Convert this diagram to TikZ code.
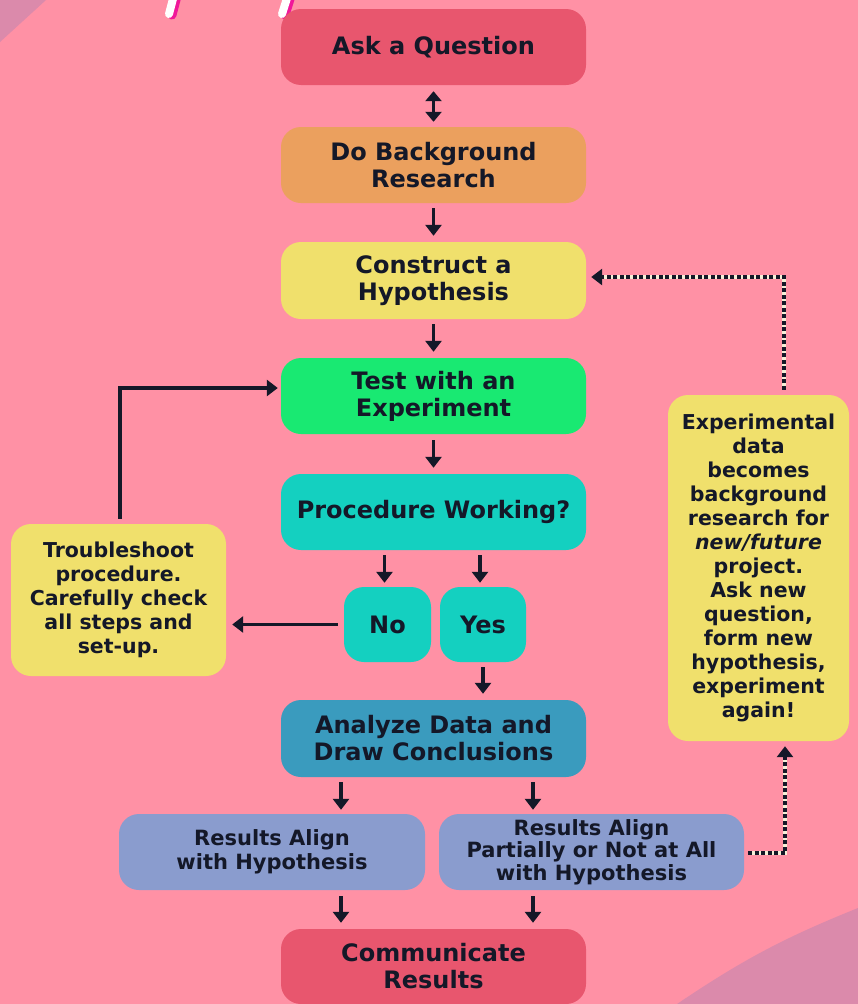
\documentclass[tikz,border=0pt]{standalone}
\usepackage{fontspec}
\setmainfont{DejaVu Sans}
\usetikzlibrary{arrows.meta}
\definecolor{bgpink}{HTML}{FF91A5}
\definecolor{cornerpink}{HTML}{DB8AAB}
\definecolor{cred}{HTML}{E8566E}
\definecolor{corange}{HTML}{EBA05E}
\definecolor{cyellow}{HTML}{F0E06C}
\definecolor{cgreen}{HTML}{19E972}
\definecolor{cteal}{HTML}{14D0C0}
\definecolor{cblue}{HTML}{3A9BBE}
\definecolor{clav}{HTML}{8A9CCE}
\definecolor{cink}{HTML}{141828}
\definecolor{ccream}{HTML}{F6F0D8}
\definecolor{cmag}{HTML}{F0189A}
\begin{document}
\begin{tikzpicture}[x=1pt,y=-1pt,
  box/.style={rounded corners=20pt, inner sep=0pt, align=center, text=cink,
    font=\fontsize{24}{27}\selectfont\bfseries},
  smallbox/.style={box, font=\fontsize{20.5}{24}\selectfont\bfseries},
  resbox/.style={box, font=\fontsize{21}{22.5}\selectfont\bfseries},
  arr/.style={draw=cink, line width=3.6pt, -{Triangle[width=16pt,length=11pt]}},
  dotline/.style={draw=cink, line width=4.5pt, dash pattern=on 4pt off 2.5pt},
  dotunder/.style={draw=ccream, line width=4.5pt}
]
\useasboundingbox (0,0) rectangle (858,1004);
\fill[bgpink] (0,0) rectangle (858,1004);
\fill[cornerpink] (0,0) -- (46,0) -- (0,42) -- cycle;
\fill[cornerpink] (677,1004) to[bend left=6] (858,908) -- (858,1004) -- cycle;
% title fragments
\draw[cmag, line width=9pt, line cap=round] (172,15) -- (177,-4);
\draw[white, line width=8pt, line cap=round] (169,14) -- (174,-5);
\draw[cmag, line width=9pt, line cap=round] (285,15) -- (291,-4);
\draw[white, line width=8pt, line cap=round] (282,14) -- (288,-5);

% nodes
\node[box, fill=cred, minimum width=305pt, minimum height=76pt] (ask) at (433.5,47) {Ask a Question};
\node[box, fill=corange, minimum width=305pt, minimum height=76pt] (bg) at (433.5,165) {Do Background\\Research};
\node[box, fill=cyellow, minimum width=305pt, minimum height=77pt] (hyp) at (433.5,280.5) {Construct a\\Hypothesis};
\node[box, fill=cgreen, minimum width=305pt, minimum height=76pt] (test) at (433.5,396) {Test with an\\Experiment};
\node[box, fill=cteal, minimum width=305pt, minimum height=76pt] (proc) at (433.5,512) {Procedure Working?};
\node[box, fill=cteal, minimum width=87pt, minimum height=75pt] (no) at (387.5,624.5) {No};
\node[box, fill=cteal, minimum width=86pt, minimum height=75pt] (yes) at (483,624.5) {Yes};
\node[smallbox, fill=cyellow, minimum width=215pt, minimum height=152pt] (trouble) at (118.5,600) {Troubleshoot\\procedure.\\Carefully check\\all steps and\\set-up.};
\node[box, fill=cblue, minimum width=305pt, minimum height=77pt] (analyze) at (433.5,738.5) {Analyze Data and\\Draw Conclusions};
\node[resbox, fill=clav, minimum width=306pt, minimum height=76pt, font=\fontsize{21}{24}\selectfont\bfseries] (r1) at (272,852) {Results Align\\with Hypothesis};
\node[resbox, fill=clav, minimum width=305pt, minimum height=76pt] (r2) at (591.5,852) {Results Align\\Partially or Not at All\\with Hypothesis};
\node[box, fill=cred, minimum width=305pt, minimum height=75pt] (comm) at (433.5,966.5) {Communicate\\Results};
\node[smallbox, fill=cyellow, minimum width=181pt, minimum height=346pt] (right) at (758.5,568) {Experimental\\data\\becomes\\background\\research for\\{\itshape new/future}\\project.\\Ask new\\question,\\form new\\hypothesis,\\experiment\\again!};

% arrows
\draw[draw=cink, line width=3.6pt, {Triangle[width=16pt,length=10pt]}-{Triangle[width=16pt,length=10pt]}, shorten <=6pt, shorten >=5pt] (ask) -- (bg);
\draw[arr, shorten <=5pt, shorten >=6pt] (bg) -- (hyp);
\draw[arr, shorten <=5pt, shorten >=6pt] (hyp) -- (test);
\draw[arr, shorten <=6pt, shorten >=6pt] (test) -- (proc);
\draw[arr, shorten <=5pt, shorten >=4pt] ([xshift=-3pt]no.north |- proc.south) -- ([xshift=-3pt]no.north);
\draw[arr, shorten <=5pt, shorten >=4pt] ([xshift=-3pt]yes.north |- proc.south) -- ([xshift=-3pt]yes.north);
\draw[arr, shorten <=6pt, shorten >=6pt] (no.west) -- (no.west -| trouble.east);
\draw[arr, shorten <=5pt, shorten >=3pt] ([xshift=1.5pt]trouble.north) |- ([yshift=8pt]test.west);
\draw[arr, shorten <=5pt, shorten >=6pt] (yes.south) -- (yes.south |- analyze.north);
\draw[arr, shorten <=5pt, shorten >=4pt] ([xshift=-92.5pt]analyze.south) -- ([xshift=-92.5pt]analyze.south |- r1.north);
\draw[arr, shorten <=5pt, shorten >=4pt] ([xshift=99.5pt]analyze.south) -- ([xshift=99.5pt]analyze.south |- r2.north);
\draw[arr, shorten <=6pt, shorten >=6pt] ([xshift=-92.5pt]comm.north |- r1.south) -- ([xshift=-92.5pt]comm.north);
\draw[arr, shorten <=6pt, shorten >=6pt] ([xshift=99.5pt]comm.north |- r2.south) -- ([xshift=99.5pt]comm.north);

% dotted feedback lines
\draw[dotunder, shorten <=5pt, shorten >=12pt] ([xshift=25.5pt]right.north) |- ([yshift=3.5pt]hyp.east);
\draw[dotline, shorten <=5pt, shorten >=5pt, -{Triangle[width=16pt,length=11pt]}] ([xshift=25.5pt]right.north) |- ([yshift=3.5pt]hyp.east);
\draw[dotunder, shorten <=4pt, shorten >=12pt] ([yshift=-1pt]r2.east) -| ([xshift=26.5pt]right.south);
\draw[dotline, shorten <=4pt, shorten >=5pt, -{Triangle[width=16pt,length=11pt]}] ([yshift=-1pt]r2.east) -| ([xshift=26.5pt]right.south);
\end{tikzpicture}
\end{document}
